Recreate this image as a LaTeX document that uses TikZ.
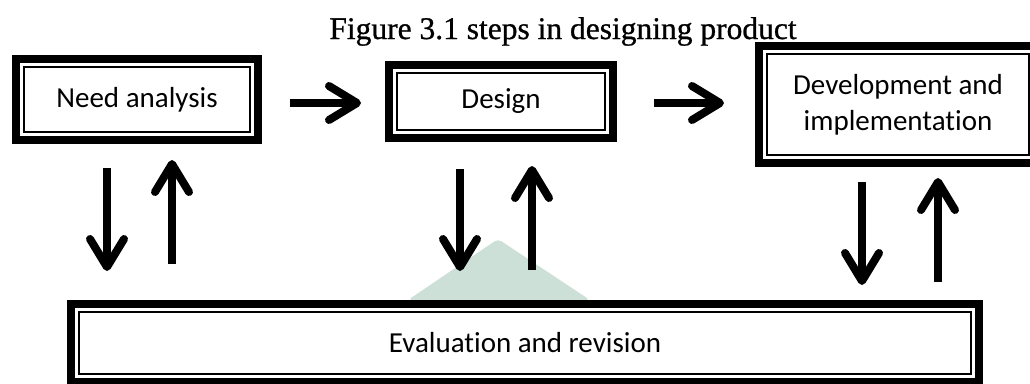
\documentclass[tikz,border=0pt]{standalone}
\usepackage{fontspec}
\setmainfont{Carlito}[Ligatures=NoCommon]
\newfontfamily\titlefont{Liberation Serif}[FakeBold=0.8]
\usepackage{tikz}
\usetikzlibrary{arrows.meta}

\definecolor{markgreen}{RGB}{204,224,216}

\tikzset{
	stage/.style={draw, line width=8pt, inner sep=0pt, align=center,
		font=\fontsize{29pt}{36pt}\selectfont,
		path picture={\draw[line width=2pt] ([shift={(8pt,-8pt)}]path picture bounding box.north west) rectangle ([shift={(-8pt,8pt)}]path picture bounding box.south east);}},
	arr/.style={line width=8pt, -{Straight Barb[length=28pt, width=34pt, round]}}
}

\begin{document}
\begin{tikzpicture}[x=1pt, y=-1pt]
	\useasboundingbox (0,0) rectangle (1030,383);
	\clip (0,0) rectangle (1030,383);
	
	\node[font=\titlefont\fontsize{31.5pt}{36pt}\selectfont, anchor=base] (title) at (563,39) {Figure 3.1 steps in designing product};
	
	% faint mark behind the feedback arrows
	\fill[markgreen, rounded corners=4pt] (408,300) -- (498,239) -- (590,300) -- cycle;
	
	\node[stage, minimum width=242pt, minimum height=81pt] (need) at (137,99.5) {Need analysis};
	\node[stage, minimum width=224pt, minimum height=73pt] (design) at (501,101.5) {Design};
	\node[stage, minimum width=278pt, minimum height=117pt] (dev) at (898,104.5) {Development and\\implementation};
	\node[stage, minimum width=908pt, minimum height=78pt] (eval) at (525,343) {Evaluation and revision};
	
	\draw[arr, shorten <=28pt, shorten >=24pt] ([yshift=-3.5pt]need.east) -- ([yshift=-1.5pt]design.west);
	\draw[arr, shorten <=37pt, shorten >=31pt] ([yshift=-1.5pt]design.east) -- ([yshift=1.5pt]dev.west);
	
	\draw[arr, shorten <=24pt, shorten >=29pt] ([xshift=-30pt]need.south) -- ([xshift=-30pt]need.south |- eval.north);
	\draw[arr, shorten <=36pt, shorten >=16pt] ([xshift=35pt]need.south |- eval.north) -- ([xshift=35pt]need.south);
	
	\draw[arr, shorten <=27pt, shorten >=29pt] ([xshift=-41pt]design.south) -- ([xshift=-41pt]design.south |- eval.north);
	\draw[arr, shorten <=30pt, shorten >=24pt] ([xshift=31pt]design.south |- eval.north) -- ([xshift=31pt]design.south);
	
	\draw[arr, shorten <=15pt, shorten >=15pt] ([xshift=-36pt]dev.south) -- ([xshift=-36pt]dev.south |- eval.north);
	\draw[arr, shorten <=18pt, shorten >=11pt] ([xshift=40pt]dev.south |- eval.north) -- ([xshift=40pt]dev.south);
\end{tikzpicture}
\end{document}
